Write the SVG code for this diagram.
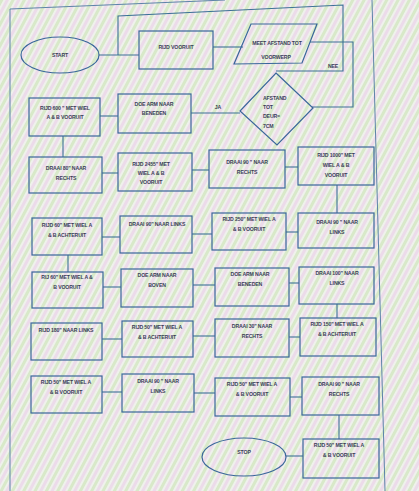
<svg xmlns="http://www.w3.org/2000/svg" width="419" height="491" viewBox="0 0 419 491">
<defs>
<pattern id="moire" width="10" height="10" patternUnits="userSpaceOnUse" patternTransform="rotate(28)">
<rect width="10" height="10" fill="#eff1ec"/>
<rect width="3" height="10" fill="#d8e9c9"/>
<rect x="5" width="3" height="10" fill="#ecdbea"/>
</pattern>
<style>
.n{fill:none;stroke:#3a679a;stroke-width:1.2}
.c{fill:none;stroke:#3d7196;stroke-width:1.1}
.pg{fill:none;stroke:#5d84a8;stroke-width:1}
text{font-family:"Liberation Sans",Arial,sans-serif;font-size:5.2px;fill:#3a3e58;text-anchor:middle;font-weight:bold;letter-spacing:-0.15px}
.l{text-anchor:start}
</style>
</defs>
<rect width="419" height="491" fill="url(#moire)"/>
<path class="pg" d="M10 491 V9 L225 0 M372 0 L385 491"/>

<g id="connectors">
<path class="c" d="M99 55 H139"/>
<path class="c" d="M118 55 V16 L343 5 V71 H276"/>
<path class="c" d="M213 47 H243"/>
<path class="c" d="M310 42 H353 V107 H312"/>
<path class="c" d="M191 113 H240"/>
<path class="c" d="M100 116 H118"/>
<path class="c" d="M63 136 V157"/>
<path class="c" d="M102 173 H118"/>
<path class="c" d="M192 170 H209"/>
<path class="c" d="M285 167 H298"/>
<path class="c" d="M337 185 V213"/>
<path class="c" d="M102 237 H120"/>
<path class="c" d="M192 234 H212"/>
<path class="c" d="M286 232 H298"/>
<path class="c" d="M68 255 V272"/>
<path class="c" d="M103 287 H121"/>
<path class="c" d="M193 285 H215"/>
<path class="c" d="M289 283 H299"/>
<path class="c" d="M337 304 V318"/>
<path class="c" d="M102 339 H122"/>
<path class="c" d="M193 336 H215"/>
<path class="c" d="M289 337 H300"/>
<path class="c" d="M102 392 H122"/>
<path class="c" d="M194 393 H215"/>
<path class="c" d="M290 397 H302"/>
<path class="c" d="M339 415 V439"/>
<path class="c" d="M286 456 H303"/>
<text x="333" y="68">NEE</text>
<text x="218" y="109">JA</text>
</g>

<g id="start"><ellipse class="n" cx="60" cy="55" rx="39" ry="18"/><text x="60" y="57">START</text></g>
<g id="rijd-vooruit"><rect class="n" x="139" y="31" width="74" height="38"/><text x="176" y="49">RIJD VOORUIT</text></g>
<g id="meet-afstand"><polygon class="n" points="251,24 317,24 302,63 234,64"/><text x="277" y="45">MEET AFSTAND TOT</text><text x="276" y="59">VOORWERP</text></g>
<g id="afstand-deur"><polygon class="n" points="276,73 313,108 277,145 240,111"/><text class="l" x="263" y="100">AFSTAND</text><text class="l" x="263" y="109">TOT</text><text class="l" x="263" y="118">DEUR=</text><text class="l" x="263" y="128">7CM</text></g>

<g id="rijd-600"><rect class="n" x="29" y="98" width="71" height="38"/><text x="65" y="110">RIJD 600 " MET WIEL</text><text x="65" y="119">A &amp; B VOORUIT</text></g>
<g id="arm-beneden-1"><rect class="n" x="118" y="94" width="73" height="39"/><text x="154" y="106">DOE ARM NAAR</text><text x="154" y="115">BENEDEN</text></g>

<g id="draai-80-rechts"><rect class="n" x="29" y="157" width="73" height="36"/><text x="66" y="170">DRAAI 80" NAAR</text><text x="66" y="180">RECHTS</text></g>
<g id="rijd-2455"><rect class="n" x="118" y="153" width="74" height="38"/><text x="151" y="166">RIJD 2455" MET</text><text x="151" y="175">WIEL A &amp; B</text><text x="151" y="184">VOORUIT</text></g>
<g id="draai-90-rechts-1"><rect class="n" x="209" y="150" width="76" height="38"/><text x="247" y="164">DRAAI 90 " NAAR</text><text x="247" y="174">RECHTS</text></g>
<g id="rijd-1000"><rect class="n" x="298" y="147" width="76" height="38"/><text x="336" y="157">RIJD 1000" MET</text><text x="336" y="167">WIEL A &amp; B</text><text x="336" y="177">VOORUIT</text></g>

<g id="rijd-60-achteruit"><rect class="n" x="32" y="218" width="70" height="37"/><text x="67" y="227">RIJD 60" MET WIEL A</text><text x="67" y="237">&amp; B ACHTERUIT</text></g>
<g id="draai-90-links-1"><rect class="n" x="120" y="216" width="72" height="37"/><text x="157" y="226">DRAAI 90" NAAR LINKS</text></g>
<g id="rijd-250"><rect class="n" x="212" y="213" width="74" height="37"/><text x="249" y="221">RIJD 250" MET WIEL A</text><text x="249" y="231">&amp; B VOORUIT</text></g>
<g id="draai-90-links-2"><rect class="n" x="298" y="213" width="76" height="35"/><text x="337" y="224">DRAAI 90 " NAAR</text><text x="337" y="234">LINKS</text></g>

<g id="rij-60-vooruit"><rect class="n" x="32" y="272" width="71" height="36"/><text x="67" y="279">RIJ 60" MET WIEL A &amp;</text><text x="67" y="289">B VOORUIT</text></g>
<g id="arm-boven"><rect class="n" x="121" y="269" width="72" height="38"/><text x="157" y="277">DOE ARM NAAR</text><text x="157" y="287">BOVEN</text></g>
<g id="arm-beneden-2"><rect class="n" x="215" y="268" width="74" height="38"/><text x="250" y="276">DOE ARM NAAR</text><text x="250" y="286">BENEDEN</text></g>
<g id="draai-100-links"><rect class="n" x="299" y="267" width="75" height="37"/><text x="337" y="275">DRAAI 100" NAAR</text><text x="337" y="285">LINKS</text></g>

<g id="rijd-180-links"><rect class="n" x="31" y="323" width="71" height="37"/><text x="66" y="332">RIJD 180" NAAR LINKS</text></g>
<g id="rijd-50-achteruit-1"><rect class="n" x="122" y="321" width="71" height="36"/><text x="157" y="329">RIJD 50" MET WIEL A</text><text x="157" y="339">&amp; B ACHTERUIT</text></g>
<g id="draai-30-rechts"><rect class="n" x="215" y="319" width="74" height="38"/><text x="252" y="328">DRAAI 30" NAAR</text><text x="252" y="338">RECHTS</text></g>
<g id="rijd-150-achteruit"><rect class="n" x="300" y="318" width="76" height="38"/><text x="337" y="326">RIJD 150" MET WIEL A</text><text x="337" y="336">&amp; B ACHTERUIT</text></g>

<g id="rijd-50-vooruit-1"><rect class="n" x="31" y="376" width="71" height="37"/><text x="66" y="384">RIJD 50" MET WIEL A</text><text x="66" y="394">&amp; B VOORUIT</text></g>
<g id="draai-90-links-3"><rect class="n" x="122" y="374" width="72" height="38"/><text x="158" y="383">DRAAI 90 " NAAR</text><text x="158" y="393">LINKS</text></g>
<g id="rijd-50-vooruit-2"><rect class="n" x="215" y="378" width="75" height="38"/><text x="252" y="386">RIJD 50" MET WIEL A</text><text x="252" y="396">&amp; B VOORUIT</text></g>
<g id="draai-90-rechts-2"><rect class="n" x="302" y="377" width="77" height="38"/><text x="339" y="386">DRAAI 90 " NAAR</text><text x="339" y="396">RECHTS</text></g>

<g id="stop"><ellipse class="n" cx="244" cy="457" rx="42" ry="19"/><text x="244" y="454">STOP</text></g>
<g id="rijd-50-vooruit-3"><rect class="n" x="303" y="439" width="76" height="39"/><text x="339" y="447">RIJD 50" MET WIEL A</text><text x="339" y="457">&amp; B VOORUIT</text></g>
</svg>
